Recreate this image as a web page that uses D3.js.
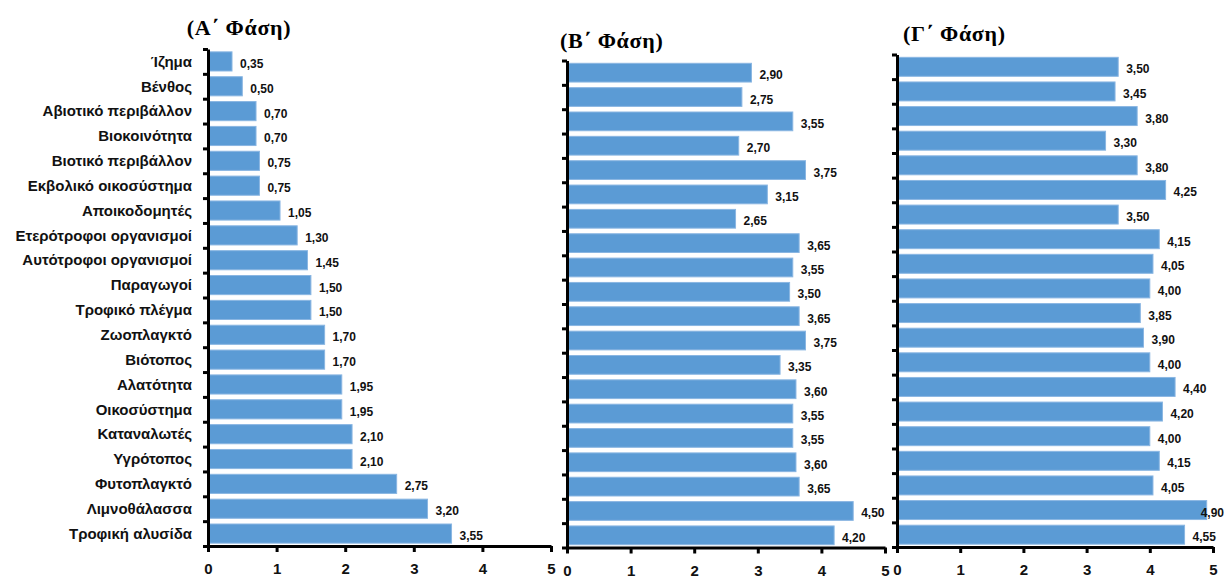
<!DOCTYPE html>
<html>
<head>
<meta charset="utf-8">
<script src="https://cdn.jsdelivr.net/npm/d3@7"></script>
<style>
  html, body { margin: 0; padding: 0; background: #ffffff; }
  svg { display: block; }
  .cat { font-family: "Liberation Sans", Arial, sans-serif; font-weight: bold; font-size: 15px; fill: #111; }
  .val { font-family: "Liberation Sans", Arial, sans-serif; font-weight: bold; font-size: 12px; fill: #111; }
  .title { font-family: "Liberation Serif", "Times New Roman", serif; font-weight: bold; font-size: 22px; letter-spacing: 0.7px; fill: #000; }
  .xaxis text { font-family: "Liberation Sans", Arial, sans-serif; font-weight: bold; font-size: 15px; fill: #111; }
</style>
</head>
<body>
<svg id="chart" width="1224" height="579"></svg>
<script>
// Terms, from the top of each panel to the bottom
const categories = [
  "Ίζημα", "Βένθος", "Αβιοτικό περιβάλλον", "Βιοκοινότητα", "Βιοτικό περιβάλλον",
  "Εκβολικό οικοσύστημα", "Αποικοδομητές", "Ετερότροφοι οργανισμοί", "Αυτότροφοι οργανισμοί",
  "Παραγωγοί", "Τροφικό πλέγμα", "Ζωοπλαγκτό", "Βιότοπος", "Αλατότητα", "Οικοσύστημα",
  "Καταναλωτές", "Υγρότοπος", "Φυτοπλαγκτό", "Λιμνοθάλασσα", "Τροφική αλυσίδα"
];

// Mean scores per phase
const phaseA = [0.35, 0.50, 0.70, 0.70, 0.75, 0.75, 1.05, 1.30, 1.45, 1.50,
                1.50, 1.70, 1.70, 1.95, 1.95, 2.10, 2.10, 2.75, 3.20, 3.55];
const phaseB = [2.90, 2.75, 3.55, 2.70, 3.75, 3.15, 2.65, 3.65, 3.55, 3.50,
                3.65, 3.75, 3.35, 3.60, 3.55, 3.55, 3.60, 3.65, 4.50, 4.20];
const phaseC = [3.50, 3.45, 3.80, 3.30, 3.80, 4.25, 3.50, 4.15, 4.05, 4.00,
                3.85, 3.90, 4.00, 4.40, 4.20, 4.00, 4.15, 4.05, 4.90, 4.55];

const titles = ["(Α΄ Φάση)", "(Β΄ Φάση)", "(Γ΄ Φάση)"];
const xTicks = [0, 1, 2, 3, 4, 5];
const xDomain = [0, 5];

const W = 1224, H = 579;
const svg = d3.select("#chart");
const fmt = v => v.toFixed(2).replace(".", ",");

const panels = [
  { values: phaseA, title: titles[0], x0: 208, x1: 551, top: 49, bottom: 546,
    titleX: 239, titleY: 35, titleAnchor: "middle", tickPad: 11, showCats: true },
  { values: phaseB, title: titles[1], x0: 567, x1: 885, top: 60.5, bottom: 547.5,
    titleX: 560, titleY: 48, titleAnchor: "start", tickPad: 11.5, showCats: false },
  { values: phaseC, title: titles[2], x0: 897, x1: 1213, top: 54.5, bottom: 547,
    titleX: 903, titleY: 41, titleAnchor: "start", tickPad: 11.5, showCats: false }
];

panels.forEach(p => {
  const g = svg.append("g");

  const x = d3.scaleLinear().domain(xDomain).range([p.x0, p.x1]);
  const y = d3.scaleBand().domain(categories).range([p.top, p.bottom])
    .paddingInner(0.23).paddingOuter(0.115);
  // band edges, for the category tick marks
  const yEdge = d3.scaleLinear().domain([0, categories.length]).range([p.top, p.bottom]);

  // bars
  g.selectAll("rect.bar").data(p.values).join("rect")
    .attr("class", "bar")
    .attr("x", x(0))
    .attr("y", (d, i) => y(categories[i]))
    .attr("width", d => x(d) - x(0))
    .attr("height", y.bandwidth())
    .attr("fill", "#5b9bd5")
    .attr("stroke", "#8ab6e2")
    .attr("stroke-width", 1);

  // value labels
  g.selectAll("text.val").data(p.values).join("text")
    .attr("class", "val")
    .attr("x", d => x(d) + 8)
    .attr("y", (d, i) => y(categories[i]) + y.bandwidth() / 2)
    .attr("dy", "0.54em")
    .text(d => fmt(d))
    .each(function () {
      const t = d3.select(this);
      const len = this.getComputedTextLength();
      const xs = +t.attr("x");
      if (xs + len > W) t.attr("x", W - len);
    });

  // category labels (first panel only)
  if (p.showCats) {
    g.selectAll("text.cat").data(categories).join("text")
      .attr("class", "cat")
      .attr("x", p.x0 - 16)
      .attr("y", d => y(d) + y.bandwidth() / 2)
      .attr("dy", "0.35em")
      .attr("text-anchor", "end")
      .text(d => d);
  }

  // vertical axis with ticks at band edges
  const ya = g.append("g")
    .attr("transform", `translate(${p.x0},0)`)
    .call(d3.axisLeft(yEdge).tickValues(d3.range(categories.length + 1))
      .tickSize(5).tickSizeOuter(0).tickFormat(""));
  ya.select(".domain").attr("stroke", "#000").attr("stroke-width", 3);
  ya.selectAll(".tick line").attr("stroke", "#000").attr("stroke-width", 3);

  // horizontal axis
  const xa = g.append("g")
    .attr("class", "xaxis")
    .attr("transform", `translate(0,${p.bottom})`)
    .call(d3.axisBottom(x).tickValues(xTicks).tickFormat(d3.format("d"))
      .tickSize(6).tickSizeOuter(0).tickPadding(p.tickPad));
  xa.select(".domain").attr("stroke", "#000").attr("stroke-width", 3);
  xa.selectAll(".tick line").attr("stroke", "#000").attr("stroke-width", 3);
  xa.selectAll(".tick text").attr("fill", "#111");

  // panel title
  g.append("text")
    .attr("class", "title")
    .attr("x", p.titleX)
    .attr("y", p.titleY)
    .attr("text-anchor", p.titleAnchor)
    .text(p.title);
});
</script>
</body>
</html>
